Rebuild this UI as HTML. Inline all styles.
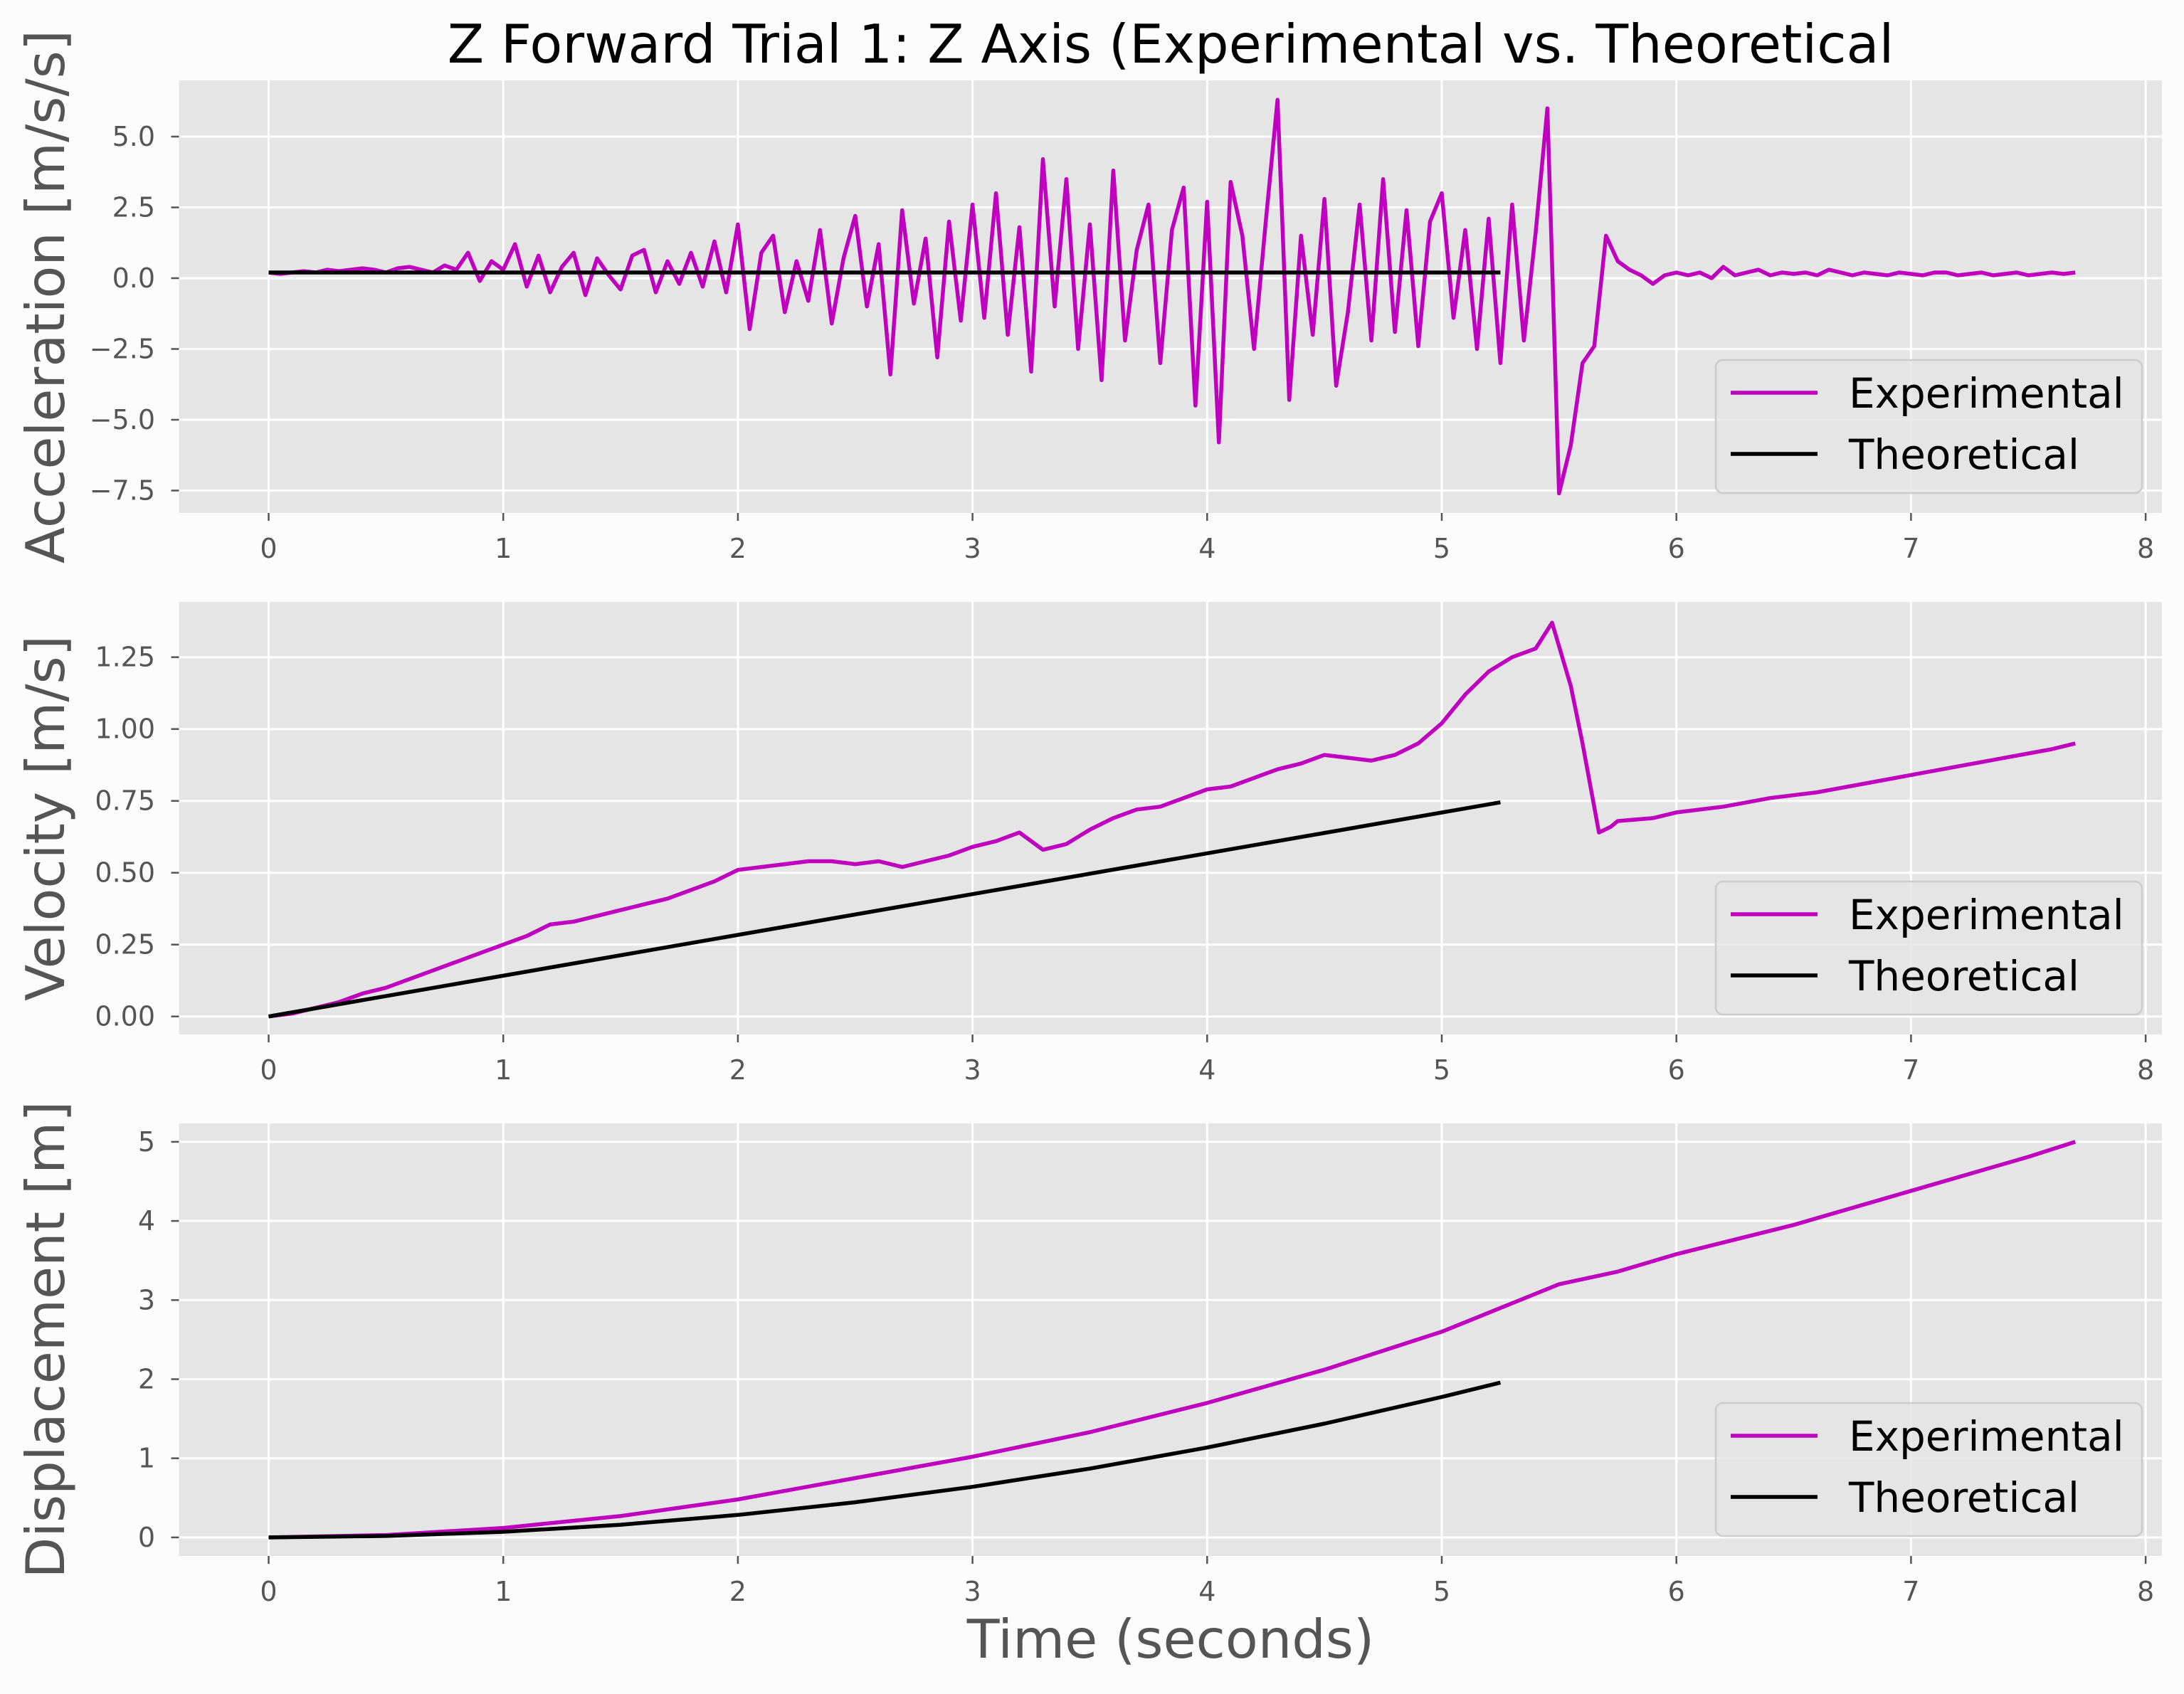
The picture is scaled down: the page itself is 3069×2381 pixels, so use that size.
<!DOCTYPE html>
<html><head><meta charset="utf-8"><style>
html,body{margin:0;padding:0;background:#fcfcfc;}
svg{display:block;font-family:"DejaVu Sans","Liberation Sans",sans-serif;}
</style></head><body>
<svg id="fig" width="3069" height="2381" viewBox="0 0 3069 2381">
<rect x="0" y="0" width="3069" height="2381" fill="#fcfcfc"/>
<text x="1645" y="88" font-size="75" text-anchor="middle" fill="#000">Z Forward Trial 1: Z Axis (Experimental vs. Theoretical</text>
<text x="1645" y="2330" font-size="75" text-anchor="middle" fill="#555">Time (seconds)</text>
</svg>
<script>
// ---- data ----
const accT0 = 0, accDt = 0.05;
const accExp = [0.2,0.15,0.2,0.25,0.2,0.3,0.25,0.3,0.35,0.3,0.2,0.35,0.4,0.3,0.2,0.45,0.3,0.9,-0.1,0.6,
0.3,1.2,-0.3,0.8,-0.5,0.4,0.9,-0.6,0.7,0.1,-0.4,0.8,1.0,-0.5,0.6,-0.2,0.9,-0.3,1.3,-0.5,
1.9,-1.8,0.9,1.5,-1.2,0.6,-0.8,1.7,-1.6,0.7,2.2,-1.0,1.2,-3.4,2.4,-0.9,1.4,-2.8,2.0,-1.5,
2.6,-1.4,3.0,-2.0,1.8,-3.3,4.2,-1.0,3.5,-2.5,1.9,-3.6,3.8,-2.2,1.0,2.6,-3.0,1.7,3.2,-4.5,
2.7,-5.8,3.4,1.5,-2.5,2.0,6.3,-4.3,1.5,-2.0,2.8,-3.8,-1.2,2.6,-2.2,3.5,-1.9,2.4,-2.4,2.0,
3.0,-1.4,1.7,-2.5,2.1,-3.0,2.6,-2.2,1.6,6.0,-7.6,-5.9,-3.0,-2.4,1.5,0.6,0.3,0.1,-0.2,0.1,
0.2,0.1,0.2,0.0,0.4,0.1,0.2,0.3,0.1,0.2,0.15,0.2,0.1,0.3,0.2,0.1,0.2,0.15,0.1,0.2,
0.15,0.1,0.2,0.2,0.1,0.15,0.2,0.1,0.15,0.2,0.1,0.15,0.2,0.15,0.2];
const accTheoT = [0, 5.25];
const accTheo = [0.2, 0.2];
const velT = [0,0.1,0.2,0.3,0.4,0.5,0.6,0.7,0.8,0.9,1.0,1.1,1.2,1.3,1.4,1.5,1.6,1.7,1.8,1.9,2.0,2.1,2.2,2.3,2.4,2.5,2.6,2.7,2.8,2.9,3.0,3.1,3.2,3.3,3.4,3.5,3.6,3.7,3.8,3.9,4.0,4.1,4.2,4.3,4.4,4.5,4.6,4.7,4.8,4.9,5.0,5.1,5.2,5.3,5.4,5.47,5.55,5.6,5.67,5.72,5.75,5.9,6.0,6.2,6.4,6.6,6.8,7.0,7.2,7.4,7.6,7.7];
const velExp = [0,0.01,0.03,0.05,0.08,0.1,0.13,0.16,0.19,0.22,0.25,0.28,0.32,0.33,0.35,0.37,0.39,0.41,0.44,0.47,0.51,0.52,0.53,0.54,0.54,0.53,0.54,0.52,0.54,0.56,0.59,0.61,0.64,0.58,0.6,0.65,0.69,0.72,0.73,0.76,0.79,0.8,0.83,0.86,0.88,0.91,0.9,0.89,0.91,0.95,1.02,1.12,1.2,1.25,1.28,1.37,1.15,0.95,0.64,0.66,0.68,0.69,0.71,0.73,0.76,0.78,0.81,0.84,0.87,0.9,0.93,0.95];
const velTheoT = [0, 5.25];
const velTheo = [0, 0.745];
const dispT = [0,0.5,1,1.5,2,2.5,3,3.5,4,4.5,5,5.25,5.5,5.75,6,6.5,7,7.5,7.7];
const dispExp = [0,0.03,0.12,0.27,0.48,0.75,1.02,1.33,1.7,2.12,2.6,2.9,3.2,3.36,3.58,3.95,4.38,4.81,5.0];
const dispTheoT = [0,0.5,1,1.5,2,2.5,3,3.5,4,4.5,5,5.25];
const dispTheo = [0,0.018,0.071,0.16,0.284,0.444,0.639,0.87,1.136,1.438,1.775,1.957];
const xTicks = [0,1,2,3,4,5,6,7,8];
const accTicks = [5.0,2.5,0.0,-2.5,-5.0,-7.5];
const accTickLabels = ["5.0","2.5","0.0","\u22122.5","\u22125.0","\u22127.5"];
const velTicks = [0,0.25,0.5,0.75,1.0,1.25];
const velTickLabels = ["0.00","0.25","0.50","0.75","1.00","1.25"];
const dispTicks = [0,1,2,3,4,5];
const dispTickLabels = ["0","1","2","3","4","5"];

const NS = "http://www.w3.org/2000/svg";
const svg = document.getElementById('fig');
function mk(tag, attrs, parent){ const e=document.createElementNS(NS,tag); for(const k in attrs) e.setAttribute(k,attrs[k]); (parent||svg).appendChild(e); return e; }
const L=251.5, R=3038, H=608;
const xs = v => 377.5 + v*329.7;

function panel(key, top, yZero, yPerUnit, yTicks, yLabels, ytitle, series){
  const ys = v => yZero - v*yPerUnit;
  const g = mk('g',{});
  
  
  const bg = mk('rect',{x:L,y:top,width:R-L,height:H,fill:'#e5e5e5'},g);
  
  
  xTicks.forEach(t=>{
    const x=xs(t);
    const gl=mk('line',{x1:x,x2:x,y1:top,y2:top+H,stroke:'#fff','stroke-width':3},g);
    
    
    mk('line',{x1:x,x2:x,y1:top+H,y2:top+H+11,stroke:'#555','stroke-width':2.5},g);
    const tl=mk('text',{x:x,y:top+H+63,'font-size':38,'text-anchor':'middle',fill:'#555'},g);
    tl.textContent=String(t);
    
    
  });
  yTicks.forEach((t,i)=>{
    const y=ys(t);
    const gl=mk('line',{x1:L,x2:R,y1:y,y2:y,stroke:'#fff','stroke-width':3},g);
    
    
    mk('line',{x1:L-11,x2:L,y1:y,y2:y,stroke:'#555','stroke-width':2.5},g);
    const tl=mk('text',{x:218,y:y+13,'font-size':38,'text-anchor':'end',fill:'#555'},g);
    tl.textContent=yLabels[i];
    
    
  });
  const yt=mk('text',{x:90,y:top+H/2,'font-size':75,'text-anchor':'middle',fill:'#555',transform:'rotate(-90 90 '+(top+H/2)+')'},g);
  yt.textContent=ytitle;
  
  
  series.forEach(s=>{
    const pts=s.t.map((tt,i)=>xs(tt).toFixed(1)+','+ys(s.v[i]).toFixed(1)).join(' ');
    const pl=mk('polyline',{points:pts,fill:'none',stroke:s.c,'stroke-width':5.5,'stroke-linejoin':'round'},g);
    
    
  });
  const lb=top+H;
  const lg=mk('g',{},g);
  
  
  mk('rect',{x:2411,y:lb-215,width:599,height:187,rx:10,fill:'#e5e5e5','fill-opacity':0.8,stroke:'#cccccc','stroke-width':2.5},lg);
  [['Experimental','#bf00bf',-169],['Theoretical','#000',-83]].forEach(r=>{
    const e=mk('g',{},lg);
    
    
    mk('line',{x1:2432,x2:2554,y1:lb+r[2],y2:lb+r[2],stroke:r[1],'stroke-width':5.5},e);
    const t=mk('text',{x:2598,y:lb+r[2]+21,'font-size':58,fill:'#000'},e);
    t.textContent=r[0];
  });
}
const accTs = accExp.map((v,i)=>accT0+i*accDt);
panel('acceleration',113,391,39.8,accTicks,accTickLabels,'Acceleration [m/s/s]',[
  {t:accTs,v:accExp,c:'#bf00bf',n:'experimental'},{t:accTheoT,v:accTheo,c:'#000',n:'theoretical'}]);
panel('velocity',846,1428.7,404,velTicks,velTickLabels,'Velocity [m/s]',[
  {t:velT,v:velExp,c:'#bf00bf',n:'experimental'},{t:velTheoT,v:velTheo,c:'#000',n:'theoretical'}]);
panel('displacement',1579,2160.9,111.2,dispTicks,dispTickLabels,'Displacement [m]',[
  {t:dispT,v:dispExp,c:'#bf00bf',n:'experimental'},{t:dispTheoT,v:dispTheo,c:'#000',n:'theoretical'}]);
</script>
</body></html>
